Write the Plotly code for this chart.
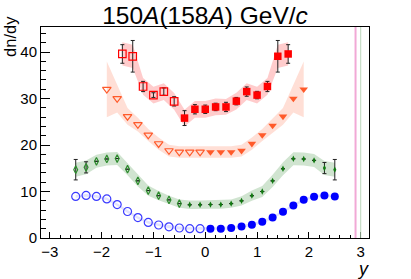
import plotly.graph_objects as go

# ---------------- data ----------------
# red squares (open: y<0 reflected, filled: measured)
red_x_open = [-1.6, -1.4, -1.2, -1.0, -0.8, -0.6]
red_y_open = [39.6, 39.1, 32.6, 30.75, 31.5, 29.4]
red_e_open = [2.0, 3.4, 1.1, 0.5, 0.8, 1.0]
red_x_fill = [-0.4, -0.2, 0.0, 0.2, 0.4, 0.6, 0.8, 1.0, 1.2, 1.4, 1.6]
red_y_fill = [25.8, 27.7, 27.7, 28.2, 28.2, 29.45, 31.5, 30.75, 32.6, 39.1, 39.6]
red_e_fill = [1.6, 1.0, 0.9, 0.8, 1.0, 0.8, 1.0, 0.8, 1.1, 3.4, 2.0]
red_sys_open = [2.5, 2.5, 1.8, 1.8, 1.8, 1.8]
red_sys_fill = [1.8, 1.8, 1.8, 1.8, 1.7, 1.8, 1.8, 1.8, 1.8, 2.5, 2.5]

# orange triangles
ora_x_open = [-1.9, -1.7, -1.5, -1.3, -1.1, -0.9, -0.7, -0.5, -0.3, -0.1]
ora_y_open = [32.0, 30.0, 26.15, 24.4, 22.15, 20.3, 18.8, 18.5, 18.5, 18.5]
ora_x_fill = [0.1, 0.3, 0.5, 0.7, 0.9, 1.1, 1.3, 1.5, 1.7, 1.9]
ora_y_fill = [18.5, 18.5, 18.5, 18.8, 20.3, 22.15, 24.2, 26.15, 30.0, 32.0]
ora_sys_open = [6.0, 3.0, 1.8, 1.5, 1.3, 1.3, 1.25, 1.25, 1.25, 1.25]
ora_sys_fill = [1.25, 1.25, 1.25, 1.25, 1.3, 1.3, 1.5, 1.8, 3.0, 6.0]

# green diamonds
grn_x_open = [-2.5, -2.3, -2.1, -1.9, -1.7, -1.5, -1.3, -1.1, -0.9, -0.7, -0.5]
grn_y_open = [14.7, 15.2, 16.5, 17.0, 17.1, 14.8, 12.3, 10.2, 9.1, 8.2, 7.4]
grn_e_open = [2.2, 1.2, 0, 0, 0, 0, 0, 0, 0, 0, 0]
grn_x_fill = [-0.3, -0.1, 0.1, 0.3, 0.5, 0.7, 0.9, 1.1, 1.3, 1.5, 1.7, 1.9, 2.1, 2.3, 2.5]
grn_y_fill = [7.15, 7.15, 7.2, 7.2, 7.4, 8.0, 9.1, 10.0, 12.3, 14.9, 17.05, 17.0, 16.7, 15.05, 14.7]
grn_e_fill = [0, 0, 0, 0, 0, 0, 0, 0, 0, 0, 0, 0, 0, 1.2, 2.2]
grn_sys_open = [1.5, 1.5, 1.4, 1.4, 1.4, 1.3, 1.2, 1.1, 1.0, 0.9, 0.9]
grn_sys_fill = [0.9, 0.9, 0.9, 0.9, 0.9, 1.0, 1.1, 1.2, 1.3, 1.4, 1.4, 1.4, 1.4, 1.5, 1.5]

# blue circles
blu_x_open = [-2.5, -2.3, -2.1, -1.9, -1.7, -1.5, -1.3, -1.1, -0.9, -0.7, -0.5, -0.3, -0.1]
blu_y_open = [8.95, 9.15, 8.95, 8.4, 7.2, 5.7, 4.4, 3.35, 2.8, 2.4, 2.15, 2.0, 2.0]
blu_x_fill = [0.1, 0.3, 0.5, 0.7, 0.9, 1.1, 1.3, 1.5, 1.7, 1.9, 2.1, 2.3, 2.5]
blu_y_fill = [2.0, 2.0, 2.15, 2.5, 2.85, 3.5, 4.4, 5.65, 7.0, 8.25, 8.9, 9.15, 8.95]
blu_sys = 0.3

beam_lines = [2.9, 3.0]
beam_colors = ["rgba(240,160,210,0.9)", "rgba(180,210,180,0.9)"]
beam_widths = [2, 1]

x_tick_vals = [-3, -2, -1, 0, 1, 2, 3]
x_tick_text = ["\u22123", "\u22122", "\u22121", "0", "1", "2", "3"]
y_tick_vals = [0, 10, 20, 30, 40]

FONT = "Liberation Sans"

fig = go.Figure()


def band(xs, ys, sys, color):
    if not isinstance(sys, list):
        sys = [sys] * len(xs)
    up = [y + s for y, s in zip(ys, sys)]
    lo = [y - s for y, s in zip(ys, sys)]
    fig.add_trace(go.Scatter(
        x=xs + xs[::-1], y=up + lo[::-1], fill="toself", fillcolor=color,
        line=dict(width=0), mode="lines", hoverinfo="skip", showlegend=False))


# bands
band(red_x_open + red_x_fill, red_y_open + red_y_fill, red_sys_open + red_sys_fill, "rgba(255,0,0,0.2)")
band(ora_x_open + ora_x_fill, ora_y_open + ora_y_fill, ora_sys_open + ora_sys_fill, "rgba(255,110,70,0.22)")
band(grn_x_open + grn_x_fill, grn_y_open + grn_y_fill, grn_sys_open + grn_sys_fill, "rgba(20,120,20,0.2)")
band(blu_x_open + blu_x_fill, blu_y_open + blu_y_fill, blu_sys, "rgba(60,60,255,0.15)")

# beam rapidity lines
for xv, c, w in zip(beam_lines, beam_colors, beam_widths):
    fig.add_shape(type="line", x0=xv, x1=xv, y0=0, y1=1, xref="x", yref="paper",
                  line=dict(color=c, width=w))

err_style = dict(type="data", color="#222222", thickness=1, width=2)


def pts(xs, ys, symbol, size, color, lw=1.2, err=None):
    kw = {}
    if err is not None:
        kw["error_y"] = dict(array=err, **err_style)
    fig.add_trace(go.Scatter(
        x=xs, y=ys, mode="markers",
        marker=dict(symbol=symbol, size=size, color=color, line=dict(color=color, width=lw)),
        showlegend=False, **kw))


RED = "#ff0000"
ORA = "#ff5a2a"
GRN = "#127a12"
BLU = "#0000ff"

pts(blu_x_open, blu_y_open, "circle-open", 8, "#3b3bff")
pts(blu_x_fill, blu_y_fill, "circle", 8, BLU, lw=0)
pts(grn_x_open, grn_y_open, "diamond-tall-open", 5.5, "#2e8b2e", err=grn_e_open)
pts(grn_x_fill, grn_y_fill, "diamond-tall", 4.5, GRN, lw=0, err=grn_e_fill)
pts(ora_x_open, ora_y_open, "triangle-down-open", 7.5, ORA)
pts(ora_x_fill, ora_y_fill, "triangle-down", 7.5, ORA, lw=0)
pts(red_x_open, red_y_open, "square-open", 7.5, RED, err=red_e_open)
pts(red_x_fill, red_y_fill, "square", 7.5, RED, lw=0, err=red_e_fill)

fig.update_layout(
    width=411, height=279,
    margin=dict(l=41, r=42, t=27, b=41, autoexpand=False),
    paper_bgcolor="white", plot_bgcolor="white",
    font=dict(family=FONT, size=15, color="black"),
    title=dict(text="150<i>A</i>(158<i>A</i>) GeV/<i>c</i>", x=0.5, xref="paper",
               y=1 - 15 / 279, yref="container", yanchor="middle",
               font=dict(family=FONT, size=24.5, color="black")),
    showlegend=False,
)
fig.update_xaxes(
    range=[-3.17, 3.16], showgrid=False, zeroline=False, automargin=False,
    showline=True, linecolor="black", linewidth=1, mirror=True,
    ticks="inside", ticklen=6, tickcolor="black",
    tickvals=x_tick_vals, ticktext=x_tick_text,
    minor=dict(ticks="inside", ticklen=3, dtick=0.2, tickcolor="black", showgrid=False),
    tickfont=dict(size=15),
)
fig.update_yaxes(
    range=[0, 45.4], showgrid=False, zeroline=False, automargin=False,
    showline=True, linecolor="black", linewidth=1, mirror=True,
    ticks="inside", ticklen=9, tickcolor="black",
    tickvals=y_tick_vals,
    minor=dict(ticks="inside", ticklen=5, dtick=2, tickcolor="black", showgrid=False),
    tickfont=dict(size=15),
)

fig.add_annotation(text="dn/dy", textangle=-90, xref="paper", yref="paper",
                   x=-0.093, y=1.062, xanchor="center", yanchor="top", showarrow=False,
                   font=dict(family=FONT, size=16.5, color="black"))
fig.add_annotation(text="<i>y</i>", xref="paper", yref="paper",
                   x=0.982, y=-0.145, xanchor="center", yanchor="middle", showarrow=False,
                   font=dict(family=FONT, size=18, color="black"))

fig.write_html(
    "out.html",
    config={"displayModeBar": False},
    post_script="document.body.style.margin='0px';document.body.style.overflow='hidden';",
)
